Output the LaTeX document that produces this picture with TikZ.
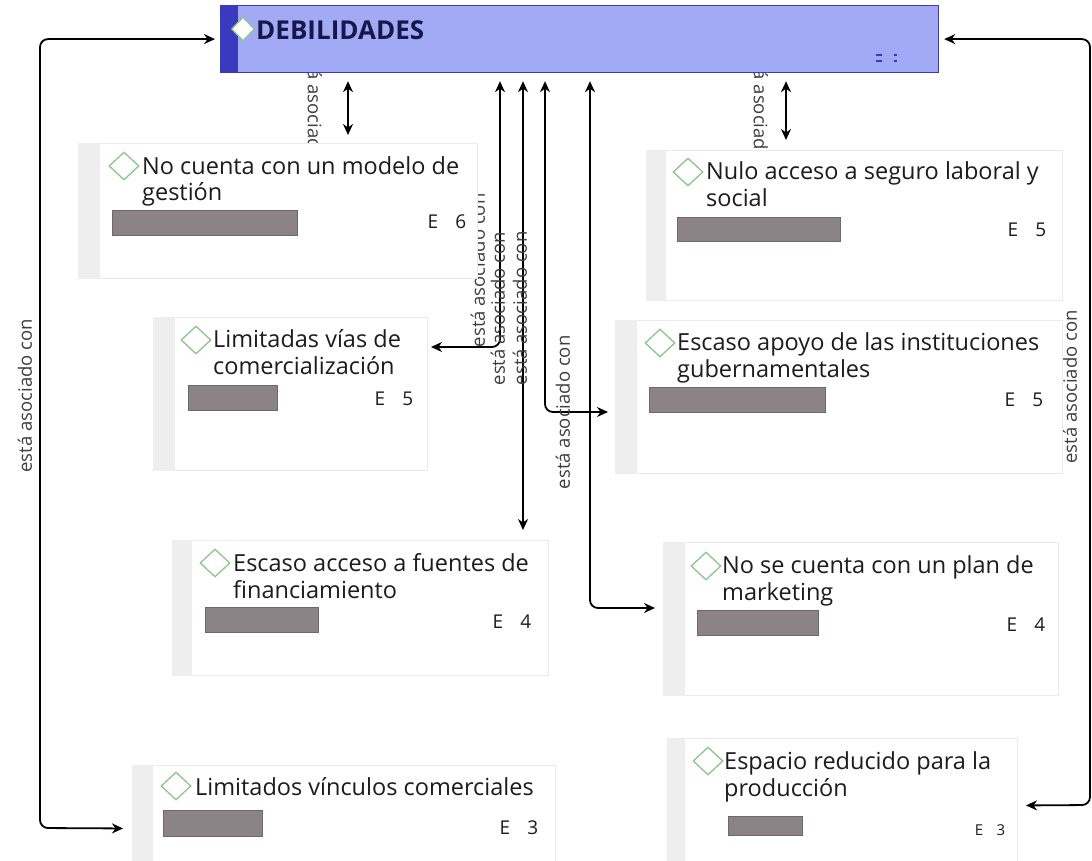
\documentclass[tikz,border=0pt]{standalone}
\usepackage{fontspec}
\setmainfont{Open Sans}
\usepackage{tikz}
\usetikzlibrary{arrows.meta,shapes.geometric,backgrounds}

\definecolor{debfill}{RGB}{162,170,246}
\definecolor{debdark}{RGB}{58,58,190}
\definecolor{cardline}{RGB}{234,234,234}
\definecolor{stripgray}{RGB}{238,238,238}
\definecolor{bargray}{RGB}{139,131,134}
\definecolor{barline}{RGB}{110,104,107}
\definecolor{diamgreen}{RGB}{140,198,140}
\definecolor{ink}{RGB}{28,28,28}

\begin{document}
\begin{tikzpicture}[x=1pt,y=1pt,>={Stealth[length=11pt,width=10pt]},
  card node/.style={rectangle,draw=cardline,fill=white,line width=1pt,anchor=north west,inner sep=0pt},
  head node/.style={rectangle,draw=debdark,fill=debfill,line width=1.2pt,anchor=north west,inner sep=0pt},
  mark node/.style={diamond,draw=diamgreen,fill=white,line width=1.3pt,minimum width=30pt,minimum height=28pt,inner sep=0pt},
  card text/.style={anchor=base west,align=left,inner sep=0pt,text=ink,font=\fontsize{23.5}{27}\selectfont},
  head text/.style={anchor=base west,inner sep=0pt,text=debdark!40!black,font=\bfseries\fontsize{26}{28}\selectfont},
  count text/.style={inner sep=0pt,text=ink,font=\fontsize{19}{22}\selectfont},
  bar fill/.style={fill=bargray,draw=barline,line width=0.8pt},
  side strip/.style={fill=stripgray},
  link/.style={<->,line width=1.8pt,rounded corners=8pt,shorten >=8pt,shorten <=8pt},
  tag up/.style={rotate=90,anchor=south,outer sep=15pt,inner sep=0pt,text=ink!85,font=\fontsize{18.5}{20}\selectfont},
  tag down/.style={rotate=-90,anchor=north,outer sep=26pt,inner sep=0pt,text=ink!85,font=\fontsize{18.5}{20}\selectfont}]

  \useasboundingbox (0,0) rectangle (1092,-861);
  \clip (0,0) rectangle (1092,-861);

  % DEBILIDADES
  \node[head node,minimum width=718pt,minimum height=67pt] (1) at (220,-5) {};
  \fill[debdark] (1.north west) rectangle ([xshift=18pt]1.south west);
  \node[mark node,minimum width=23pt,minimum height=24pt] (1d) at (243,-29) {};
  \node[head text] (1t) at (256,-40) {DEBILIDADES};
  \draw[debdark,line width=1.5pt] (876,-55) -- (882,-55) (876,-61) -- (882,-61)
    (894,-55) -- (897,-55) (894,-61) -- (897,-61);

  % codes
  \node[card node,minimum width=399pt,minimum height=135pt] (2) at (78,-143) {};
  \fill[side strip] (2.north west) rectangle ([xshift=22pt]2.south west);
  \node[mark node] (2d) at (124,-166) {};
  \node[card text] (2t) at (142,-201) {No cuenta con un modelo de\\gestión};
  \draw[bar fill] (112,-210) rectangle (297,-235);
  \node[count text] (2e) at (447,-222) {E\hspace{0.9em}6};

  \node[card node,minimum width=416pt,minimum height=150pt] (3) at (646,-150) {};
  \fill[side strip] (3.north west) rectangle ([xshift=20pt]3.south west);
  \node[mark node] (3d) at (688,-172) {};
  \node[card text] (3t) at (706,-207) {Nulo acceso a seguro laboral y\\social};
  \draw[bar fill] (677,-217) rectangle (840,-241);
  \node[count text] (3e) at (1027,-230) {E\hspace{0.9em}5};

  \node[card node,minimum width=274pt,minimum height=153pt] (4) at (153,-317) {};
  \fill[side strip] (4.north west) rectangle ([xshift=22pt]4.south west);
  \node[mark node] (4d) at (196,-340) {};
  \node[card text] (4t) at (213,-374) {Limitadas vías de\\comercialización};
  \draw[bar fill] (188,-385) rectangle (277,-410);
  \node[count text] (4e) at (394,-399) {E\hspace{0.9em}5};

  \node[card node,minimum width=447pt,minimum height=153pt] (5) at (615,-320) {};
  \fill[side strip] (5.north west) rectangle ([xshift=22pt]5.south west);
  \node[mark node] (5d) at (660,-343) {};
  \node[card text] (5t) at (677,-377) {Escaso apoyo de las instituciones\\gubernamentales};
  \draw[bar fill] (649,-387) rectangle (825,-412);
  \node[count text] (5e) at (1024,-400) {E\hspace{0.9em}5};

  \node[card node,minimum width=376pt,minimum height=135pt] (6) at (172,-540) {};
  \fill[side strip] (6.north west) rectangle ([xshift=20pt]6.south west);
  \node[mark node] (6d) at (215,-563) {};
  \node[card text] (6t) at (233,-598) {Escaso acceso a fuentes de\\financiamiento};
  \draw[bar fill] (205,-607) rectangle (318,-632);
  \node[count text] (6e) at (512,-622) {E\hspace{0.9em}4};

  \node[card node,minimum width=395pt,minimum height=153pt] (7) at (663,-542) {};
  \fill[side strip] (7.north west) rectangle ([xshift=22pt]7.south west);
  \node[mark node] (7d) at (706,-566) {};
  \node[card text] (7t) at (722,-600) {No se cuenta con un plan de\\marketing};
  \draw[bar fill] (697,-610) rectangle (818,-635);
  \node[count text] (7e) at (1026,-625) {E\hspace{0.9em}4};

  \node[card node,minimum width=423pt,minimum height=126pt] (8) at (132,-765) {};
  \fill[side strip] (8.north west) rectangle ([xshift=21pt]8.south west);
  \node[mark node] (8d) at (176,-786) {};
  \node[card text] (8t) at (195,-795) {Limitados vínculos comerciales};
  \draw[bar fill] (163,-810) rectangle (262,-836);
  \node[count text] (8e) at (519,-828) {E\hspace{0.9em}3};

  \node[card node,minimum width=350pt,minimum height=134pt] (9) at (667,-738) {};
  \fill[side strip] (9.north west) rectangle ([xshift=18pt]9.south west);
  \node[mark node] (9d) at (708,-761) {};
  \node[card text] (9t) at (724,-796) {Espacio reducido para la\\producción};
  \draw[bar fill] (728,-816) rectangle (802,-835);
  \node[count text,font=\fontsize{15}{17}\selectfont] (9e) at (990,-830) {E\hspace{0.9em}3};

  % links, behind the cards
  \begin{pgfonlayer}{background}
    \coordinate (l) at (40,-828);
    \coordinate (r) at (1090,-805);
    \draw[link,shorten <=5pt,shorten >=9pt] (1.west) -| node[tag up,pos=0.726,outer sep=8pt] {está asociado con} (l) -- (8.west);
    \draw[link,shorten <=5pt] (1.east) -| node[tag up,pos=0.727,outer sep=13pt] {está asociado con} (r) -- (9.east);
    \draw[link] (1.south -| 348,0) -- node[tag down,pos=0.68] {está asociado con} (2.north -| 348,0);
    \draw[link,shorten >=10pt] (1.south -| 786,0) -- node[tag down,pos=0.62,outer sep=18pt] {está asociado con} (3.north -| 786,0);
    \draw[link,shorten >=3pt] (1.south -| 500,0) |- node[tag up,pos=0.36] {está asociado con} (4.east |- 0,-347);
    \draw[link,shorten >=10pt] (1.south -| 523,0) -- node[tag up,pos=0.504,outer sep=18pt] {está asociado con} (6.north -| 523,0);
    \draw[link,shorten >=7pt] (1.south -| 545,0) |- node[tag up,pos=0.347,outer sep=18pt] {está asociado con} (5.west |- 0,-412);
    \draw[link] (1.south -| 590,0) |- node[tag up,pos=0.317,outer sep=20pt] {está asociado con} (7.west |- 0,-608);
  \end{pgfonlayer}
\end{tikzpicture}
\end{document}
